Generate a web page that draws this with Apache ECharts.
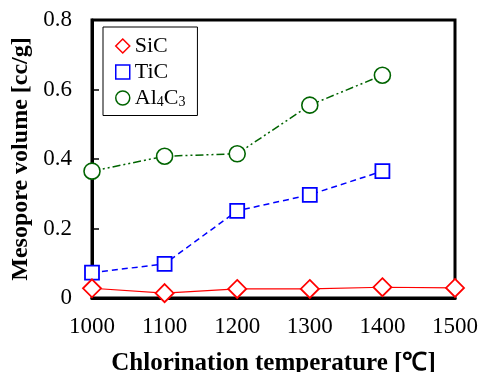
<!DOCTYPE html>
<html>
<head>
<meta charset="utf-8">
<script src="https://cdn.jsdelivr.net/npm/echarts@6/dist/echarts.min.js"></script>
<style>
  html, body { margin: 0; padding: 0; background: #fff; }
  #chart { width: 481px; height: 372px; }
</style>
</head>
<body>
<div id="chart"></div>
<script>
// temperatures (x axis)
var temps = [1000, 1100, 1200, 1300, 1400, 1500];
var sicTemps = [1000, 1100, 1200, 1300, 1400, 1500];
var sicVals = [0.028, 0.014, 0.026, 0.026, 0.031, 0.029];
var ticTemps = [1000, 1100, 1200, 1300, 1400];
var ticVals = [0.073, 0.098, 0.251, 0.297, 0.365];
var alTemps = [1000, 1100, 1200, 1300, 1400];
var alVals = [0.365, 0.408, 0.415, 0.555, 0.641];

var font = '"Liberation Serif", "Times New Roman", serif';

function pairs(xs, ys) {
    return xs.map(function (x, i) { return [x, ys[i]]; });
}

var chart = echarts.init(document.getElementById('chart'));
chart.setOption({
    animation: false,
    backgroundColor: '#fff',
    textStyle: { fontFamily: font },
    grid: {
        left: 92, right: 26, top: 20, bottom: 74,
        containLabel: false,
        outerBoundsMode: 'none',
        show: true, borderColor: '#000', borderWidth: 3
    },
    legend: {
        orient: 'vertical',
        left: 103, top: 27,
        padding: [8, 12, 6, 12],
        itemGap: 4,
        itemWidth: 14, itemHeight: 14,
        itemTextGap: 14,
        borderColor: '#000', borderWidth: 1,
        backgroundColor: '#fff',
        textStyle: {
            fontFamily: font, fontSize: 22, color: '#000', lineHeight: 21,
            rich: {
                s: { fontFamily: font, fontSize: 14, color: '#000', padding: [9, 0, 0, 0] }
            }
        },
        formatter: function (name) {
            if (name === 'Al4C3') return 'Al{s|4}C{s|3}';
            return name;
        },
        data: [
            { name: 'SiC', icon: 'diamond', itemStyle: { color: '#fff', borderColor: '#ff0000', borderWidth: 1.5 } },
            { name: 'TiC', icon: 'rect', itemStyle: { color: '#fff', borderColor: '#0000ff', borderWidth: 1.5 } },
            { name: 'Al4C3', icon: 'circle', itemStyle: { color: '#fff', borderColor: '#006400', borderWidth: 1.5 } }
        ]
    },
    xAxis: {
        type: 'value',
        min: 1000, max: 1500, interval: 100,
        name: 'Chlorination temperature [\u2103]',
        nameLocation: 'middle',
        nameGap: 53,
        nameTextStyle: { fontFamily: font, fontSize: 25, fontWeight: 'bold', color: '#000' },
        axisLine: { lineStyle: { color: '#000', width: 3 } },
        axisTick: { show: false },
        splitLine: { show: false },
        axisLabel: {
            fontFamily: font, fontSize: 23, color: '#000', margin: 17,
            formatter: function (v) { return String(v); }
        }
    },
    yAxis: {
        type: 'value',
        min: 0, max: 0.8, interval: 0.2,
        name: 'Mesopore volume [cc/g]',
        nameLocation: 'middle',
        nameGap: 58,
        nameTextStyle: { fontFamily: font, fontSize: 24, fontWeight: 'bold', color: '#000' },
        axisLine: { show: true, lineStyle: { color: '#000', width: 3 } },
        axisTick: { show: true, inside: true, length: 7, lineStyle: { color: '#000', width: 1.5 } },
        splitLine: { show: false },
        axisLabel: {
            fontFamily: font, fontSize: 23, color: '#000', margin: 20,
            formatter: function (v) { return v === 0 ? '0' : v.toFixed(1); }
        }
    },
    series: [
        {
            name: 'SiC', type: 'line',
            data: pairs(sicTemps, sicVals),
            symbol: 'diamond', symbolSize: 18,
            lineStyle: { color: '#ff0000', width: 1.2 },
            itemStyle: { color: '#fff', borderColor: '#ff0000', borderWidth: 1.8 },
            z: 4
        },
        {
            name: 'TiC', type: 'line',
            data: pairs(ticTemps, ticVals),
            symbol: 'rect', symbolSize: 14,
            lineStyle: { color: '#0000ff', width: 1.5, type: [6, 4] },
            itemStyle: { color: '#fff', borderColor: '#0000ff', borderWidth: 1.8 },
            z: 3
        },
        {
            name: 'Al4C3', type: 'line',
            data: pairs(alTemps, alVals),
            symbol: 'circle', symbolSize: 16,
            lineStyle: { color: '#006400', width: 1.5, type: [8, 3, 2, 3, 2, 3] },
            itemStyle: { color: '#fff', borderColor: '#006400', borderWidth: 1.6 },
            z: 2
        }
    ]
});
</script>
</body>
</html>
